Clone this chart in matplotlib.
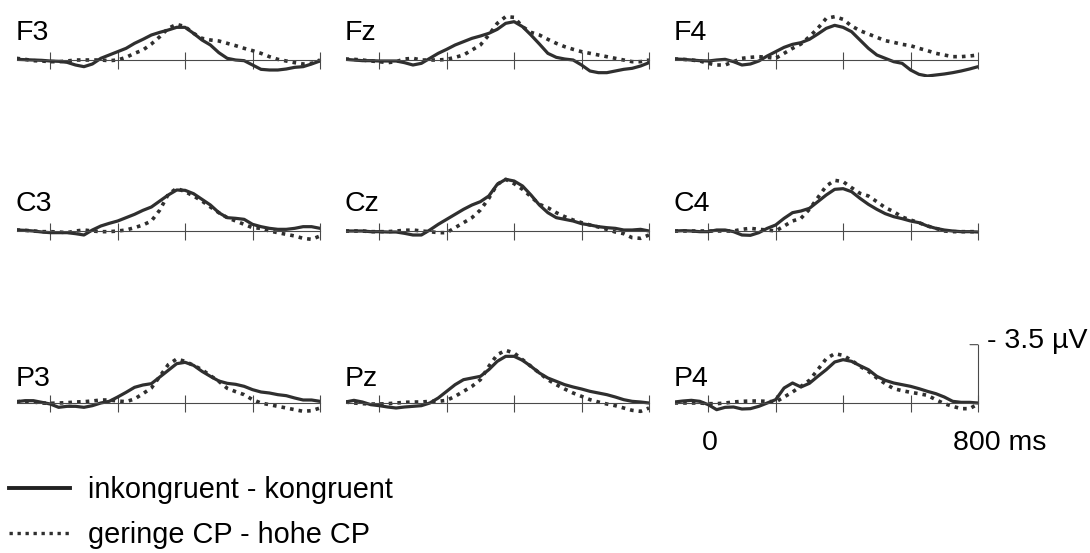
import numpy as np
import matplotlib
matplotlib.use("Agg")
import matplotlib.pyplot as plt
from matplotlib.lines import Line2D

plt.rcParams["font.family"] = ["Liberation Sans", "DejaVu Sans"]

# Zeitachse in ms, Abtastung alle 25 ms
times = np.arange(-100, 801, 25)
tick_times = [0, 200, 400, 600, 800]

electrodes = [["F3", "Fz", "F4"],
              ["C3", "Cz", "C4"],
              ["P3", "Pz", "P4"]]

legend_labels = ["inkongruent - kongruent", "geringe CP - hohe CP"]

# Differenzkurven in µV (negativ nach oben), abgelesen
# durchgezogen: inkongruent - kongruent
f3_solid = [-0.04, -0.02, 0.00, 0.02, 0.06, 0.08, 0.14, 0.30, 0.40, 0.24, -0.10, -0.30, -0.50,
            -0.70, -1.00, -1.24, -1.50, -1.66, -1.80, -1.96, -1.96, -1.60, -1.20, -0.90, -0.44,
            -0.10, 0.00, 0.04, 0.30, 0.56, 0.60, 0.60, 0.54, 0.44, 0.40, 0.24, 0.06]
fz_solid = [-0.04, 0.00, 0.04, 0.04, 0.06, 0.06, 0.06, 0.16, 0.30, 0.20, -0.10, -0.40, -0.64,
            -0.90, -1.10, -1.30, -1.44, -1.60, -1.84, -2.20, -2.30, -2.00, -1.50, -0.96, -0.40,
            -0.16, -0.06, 0.00, 0.30, 0.66, 0.76, 0.76, 0.66, 0.56, 0.50, 0.36, 0.16]
f4_solid = [-0.06, -0.04, 0.00, 0.04, 0.06, 0.00, -0.04, 0.10, 0.30, 0.24, 0.06, -0.24, -0.50,
            -0.76, -0.94, -1.04, -1.24, -1.56, -1.90, -2.08, -1.96, -1.70, -1.20, -0.70, -0.30,
            -0.10, 0.10, 0.20, 0.60, 0.86, 0.96, 0.90, 0.84, 0.76, 0.66, 0.54, 0.40]
c3_solid = [-0.06, -0.04, 0.00, 0.06, 0.10, 0.10, 0.10, 0.16, 0.24, -0.06, -0.30, -0.46, -0.60,
            -0.80, -1.00, -1.24, -1.44, -1.80, -2.16, -2.46, -2.44, -2.24, -1.90, -1.56, -1.10,
            -0.80, -0.76, -0.70, -0.40, -0.26, -0.16, -0.10, -0.10, -0.16, -0.26, -0.26, -0.16]
cz_solid = [0.00, 0.00, 0.00, 0.04, 0.04, 0.06, 0.06, 0.14, 0.24, 0.24, -0.06, -0.40, -0.70,
            -1.00, -1.30, -1.56, -1.76, -2.10, -2.80, -3.10, -3.00, -2.70, -2.16, -1.56, -1.10,
            -0.80, -0.70, -0.60, -0.44, -0.36, -0.26, -0.20, -0.16, -0.06, -0.06, -0.10, 0.00]
c4_solid = [0.00, -0.02, 0.00, 0.04, 0.04, -0.06, -0.06, 0.04, 0.24, 0.26, 0.10, -0.16, -0.36,
            -0.76, -1.10, -1.20, -1.36, -1.76, -2.16, -2.50, -2.54, -2.36, -1.96, -1.60, -1.30,
            -1.04, -0.86, -0.74, -0.60, -0.50, -0.30, -0.16, -0.06, 0.00, 0.04, 0.04, 0.06]
p3_solid = [-0.08, -0.14, -0.14, -0.04, 0.06, 0.26, 0.20, 0.20, 0.26, 0.16, 0.00, -0.10, -0.36,
            -0.64, -0.94, -1.08, -1.16, -1.56, -1.96, -2.36, -2.44, -2.26, -1.90, -1.60, -1.32,
            -1.18, -1.12, -1.00, -0.80, -0.66, -0.60, -0.50, -0.44, -0.30, -0.18, -0.18, -0.10]
pz_solid = [-0.06, -0.16, -0.06, 0.10, 0.16, 0.24, 0.30, 0.24, 0.20, 0.16, 0.00, -0.30, -0.70,
            -1.10, -1.40, -1.50, -1.60, -2.00, -2.50, -2.80, -2.80, -2.56, -2.20, -1.80, -1.50,
            -1.30, -1.10, -0.96, -0.84, -0.70, -0.60, -0.50, -0.36, -0.20, -0.10, -0.06, 0.00]
p4_solid = [-0.06, -0.12, -0.16, -0.10, 0.10, 0.40, 0.26, 0.24, 0.36, 0.34, 0.20, 0.00, -0.20,
            -0.90, -1.20, -0.96, -1.18, -1.60, -2.00, -2.46, -2.60, -2.50, -2.24, -2.00, -1.60,
            -1.36, -1.20, -1.10, -1.00, -0.86, -0.70, -0.56, -0.36, -0.10, -0.04, -0.04, 0.00]

# gepunktet: geringe CP - hohe CP
f3_dot = [-0.10, -0.04, 0.04, 0.06, 0.10, 0.10, 0.06, 0.00, 0.00, 0.00, 0.00, 0.04, 0.00,
          -0.16, -0.40, -0.60, -0.96, -1.40, -1.90, -2.14, -2.00, -1.60, -1.30, -1.20, -1.14,
          -1.00, -0.86, -0.70, -0.56, -0.40, -0.20, -0.04, 0.06, 0.16, 0.24, 0.20, 0.00]
fz_dot = [-0.06, -0.04, 0.00, 0.06, 0.10, 0.16, 0.10, -0.06, -0.10, 0.00, 0.00, 0.00, -0.04,
          -0.16, -0.30, -0.60, -0.90, -1.50, -2.20, -2.60, -2.56, -2.00, -1.66, -1.50, -1.24,
          -1.00, -0.80, -0.64, -0.50, -0.40, -0.30, -0.20, -0.10, 0.00, 0.10, 0.10, 0.00]
f4_dot = [-0.06, -0.04, 0.00, 0.06, 0.20, 0.30, 0.30, 0.10, -0.10, -0.16, -0.20, -0.16, -0.10,
          -0.40, -0.70, -0.96, -1.40, -1.90, -2.50, -2.60, -2.44, -2.04, -1.76, -1.56, -1.36,
          -1.16, -1.06, -0.94, -0.86, -0.70, -0.56, -0.40, -0.30, -0.20, -0.20, -0.24, -0.30]
c3_dot = [-0.06, -0.04, 0.00, 0.04, 0.04, 0.06, 0.10, 0.00, -0.06, 0.00, 0.04, 0.04, 0.00,
          -0.06, -0.20, -0.36, -0.60, -1.26, -2.20, -2.56, -2.36, -2.10, -1.80, -1.44, -1.10,
          -0.80, -0.60, -0.40, -0.20, -0.16, 0.00, 0.10, 0.20, 0.30, 0.44, 0.50, 0.30]
cz_dot = [0.00, 0.00, 0.00, 0.04, 0.04, 0.04, 0.00, -0.04, -0.06, 0.00, 0.04, 0.10, 0.10,
          -0.20, -0.50, -0.80, -1.26, -1.96, -2.80, -3.10, -2.84, -2.50, -2.06, -1.60, -1.40,
          -1.10, -0.86, -0.66, -0.50, -0.36, -0.24, -0.10, 0.06, 0.16, 0.40, 0.44, 0.24]
c4_dot = [0.00, 0.00, 0.00, 0.00, 0.00, 0.00, 0.00, 0.00, -0.10, -0.16, -0.10, -0.06, 0.00,
          -0.30, -0.60, -0.76, -1.30, -2.00, -2.70, -3.04, -2.96, -2.60, -2.26, -2.10, -1.76,
          -1.40, -1.16, -0.84, -0.66, -0.50, -0.30, -0.16, 0.00, 0.04, 0.04, 0.04, 0.04]
p3_dot = [-0.08, -0.10, -0.06, 0.00, 0.02, 0.00, -0.02, -0.06, -0.08, -0.12, -0.18, -0.18, -0.12,
          -0.08, -0.24, -0.56, -0.90, -1.60, -2.30, -2.64, -2.50, -2.26, -2.00, -1.64, -1.30,
          -0.88, -0.68, -0.50, -0.20, 0.00, 0.10, 0.20, 0.30, 0.40, 0.50, 0.46, 0.30]
pz_dot = [-0.06, 0.00, 0.04, 0.06, 0.06, 0.04, 0.00, -0.04, -0.06, -0.06, -0.10, -0.10, -0.16,
          -0.40, -0.70, -1.00, -1.40, -2.20, -2.90, -3.16, -3.00, -2.60, -2.20, -1.80, -1.40,
          -1.10, -0.84, -0.60, -0.40, -0.20, -0.06, 0.06, 0.16, 0.30, 0.44, 0.50, 0.30]
p4_dot = [0.00, 0.00, 0.00, 0.00, 0.04, 0.04, 0.00, -0.06, -0.10, -0.12, -0.12, -0.10, -0.06,
          -0.36, -0.66, -1.00, -1.36, -2.00, -2.66, -2.96, -2.86, -2.56, -2.20, -1.90, -1.50,
          -1.16, -0.86, -0.74, -0.64, -0.56, -0.46, -0.20, 0.04, 0.20, 0.34, 0.34, 0.06]

solid = {"F3": f3_solid, "Fz": fz_solid, "F4": f4_solid,
         "C3": c3_solid, "Cz": cz_solid, "C4": c4_solid,
         "P3": p3_solid, "Pz": pz_solid, "P4": p4_solid}
dotted = {"F3": f3_dot, "Fz": fz_dot, "F4": f4_dot,
          "C3": c3_dot, "Cz": cz_dot, "C4": c4_dot,
          "P3": p3_dot, "Pz": pz_dot, "P4": p4_dot}

scale_uv = 3.5

# Layout in Pixeln
W, H = 1090, 553
PX_PER_UV = 50 / 3
PT = 72 / 100  # Pixel -> Punkt bei dpi 100
col_left = [16.5, 345.5, 674.5]
panel_w = 303.5
row_base = [60, 231, 403]
label_rise = [20.5, 20, 17.5]
y_top, y_bot = -3.8, 1.0

FS = 20.5
LINE_COL = "#2f2f2f"
AXIS_COL = "#4a4a4a"
DOT_STYLE = (0, (1, 1.4))


def make_panel(fig, row, col):
    name = electrodes[row][col]
    left = col_left[col] / W
    bottom = (H - (row_base[row] + y_bot * PX_PER_UV)) / H
    height = (y_bot - y_top) * PX_PER_UV / H
    ax = fig.add_axes([left, bottom, panel_w / W, height])
    ax.set_xlim(-100, 800)
    ax.set_ylim(y_bot, y_top)  # negativ nach oben
    ax.patch.set_visible(False)

    for side in ["top", "right", "left"]:
        ax.spines[side].set_visible(False)
    ax.spines["bottom"].set_position(("data", 0))
    ax.spines["bottom"].set_color(AXIS_COL)
    ax.spines["bottom"].set_linewidth(0.8)
    ax.set_yticks([])
    ax.set_xticks(tick_times)
    ax.set_xticklabels([])
    ax.tick_params(axis="x", direction="inout", length=17 * PT, width=0.8, color=AXIS_COL)

    ax.plot(times, dotted[name], color=LINE_COL, lw=2.6, linestyle=DOT_STYLE,
            dash_capstyle="butt")
    ax.plot(times, solid[name], color=LINE_COL, lw=2.3, solid_capstyle="round")

    ax.annotate(name, xy=(-100, 0), xytext=(-1 * PT, label_rise[row] * PT),
                textcoords="offset points", fontsize=FS, ha="left", va="baseline")
    return ax


fig = plt.figure(figsize=(W / 100, H / 100), dpi=100)
fig.patch.set_facecolor("white")

axes = {}
for r in range(3):
    for c in range(3):
        axes[electrodes[r][c]] = make_panel(fig, r, c)

# Massstab am P4-Panel
ax = axes["P4"]
ax.plot([800, 800], [0, -scale_uv], color=AXIS_COL, lw=0.8, clip_on=False)
ax.annotate("", xy=(800, -scale_uv), xytext=(-8 * PT, 0), textcoords="offset points",
            arrowprops=dict(arrowstyle="-", color=AXIS_COL, lw=0.8, shrinkA=0, shrinkB=0))
ax.annotate(f"- {scale_uv} µV", xy=(800, -scale_uv), xytext=(9 * PT, -3 * PT),
            textcoords="offset points", fontsize=FS, ha="left", va="baseline")
ax.annotate("0", xy=(0, 0), xytext=(2 * PT, -47 * PT), textcoords="offset points",
            fontsize=FS, ha="center", va="baseline")
ax.annotate("800 ms", xy=(800, 0), xytext=(-25 * PT, -47 * PT), textcoords="offset points",
            fontsize=FS, ha="left", va="baseline")

# Legende
handles = [Line2D([], [], color="#222222", lw=2.8),
           Line2D([], [], color=LINE_COL, lw=2.4, linestyle=DOT_STYLE, dash_capstyle="butt")]
fig.legend(handles, legend_labels, loc="upper left", bbox_to_anchor=(9 / W, 1 - 476 / H),
           frameon=False, fontsize=20.8, handlelength=2.1, handletextpad=0.64,
           labelspacing=0.6, borderpad=0, borderaxespad=0)

fig.savefig("out.png", dpi=100, facecolor="white")
